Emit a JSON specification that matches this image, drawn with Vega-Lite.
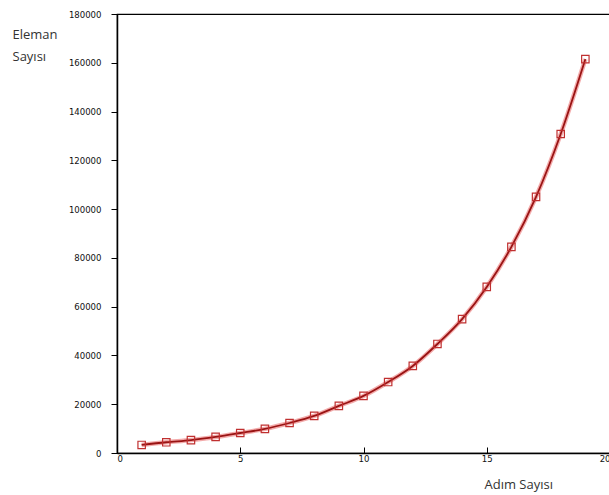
{
  "$schema": "https://vega.github.io/schema/vega-lite/v6.json",
  "autosize": "none",
  "padding": {"left": 117, "top": 14, "right": 0, "bottom": 42},
  "width": 493,
  "height": 439,
  "background": "white",
  "config": {
    "view": {"stroke": "#000", "strokeWidth": 1.2},
    "axis": {"grid": false, "domainColor": "#000", "tickColor": "#000", "labelColor": "#111", "labelFont": "DejaVu Sans Condensed", "labelFontSize": 9.5, "titleFont": "Open Sans", "titleFontWeight": "normal", "titleColor": "#333", "titleFontSize": 13}
  },
  "data": {
    "values": [
      {"adim": 1, "eleman": 3300},
      {"adim": 2, "eleman": 4400},
      {"adim": 3, "eleman": 5300},
      {"adim": 4, "eleman": 6600},
      {"adim": 5, "eleman": 8200},
      {"adim": 6, "eleman": 9900},
      {"adim": 7, "eleman": 12300},
      {"adim": 8, "eleman": 15200},
      {"adim": 9, "eleman": 19300},
      {"adim": 10, "eleman": 23400},
      {"adim": 11, "eleman": 29100},
      {"adim": 12, "eleman": 35700},
      {"adim": 13, "eleman": 44700},
      {"adim": 14, "eleman": 54900},
      {"adim": 15, "eleman": 68100},
      {"adim": 16, "eleman": 84500},
      {"adim": 17, "eleman": 105000},
      {"adim": 18, "eleman": 130800},
      {"adim": 19, "eleman": 161500}
    ]
  },
  "encoding": {
    "x": {
      "field": "adim", "type": "quantitative",
      "scale": {"domain": [0, 20], "nice": false},
      "axis": {"values": [0, 5, 10, 15, 20], "tickSize": -6, "labelPadding": 6, "domainWidth": 1.5, "title": "Adım Sayısı", "titleX": 367, "titleY": 31, "titleAlign": "left", "titleBaseline": "middle", "titleAnchor": null}
    },
    "y": {
      "field": "eleman", "type": "quantitative",
      "scale": {"domain": [0, 180000], "nice": false},
      "axis": {"values": [0, 20000, 40000, 60000, 80000, 100000, 120000, 140000, 160000, 180000], "format": "d", "tickSize": 6, "labelPadding": 10, "domainWidth": 1.5, "title": ["Eleman", "Sayısı"], "titleAngle": 0, "titleX": -105, "titleY": 14, "titleAlign": "left", "titleBaseline": "top", "titleLineHeight": 22, "titleAnchor": null}
    }
  },
  "layer": [
    {"mark": {"type": "line", "interpolate": "monotone", "color": "#ee8888", "strokeWidth": 4.5, "opacity": 0.7}},
    {"mark": {"type": "line", "interpolate": "monotone", "color": "#9a1414", "strokeWidth": 1.8}},
    {"mark": {"type": "point", "shape": "square", "filled": false, "color": "#c03030", "size": 55, "strokeWidth": 1.2, "opacity": 1}}
  ]
}
